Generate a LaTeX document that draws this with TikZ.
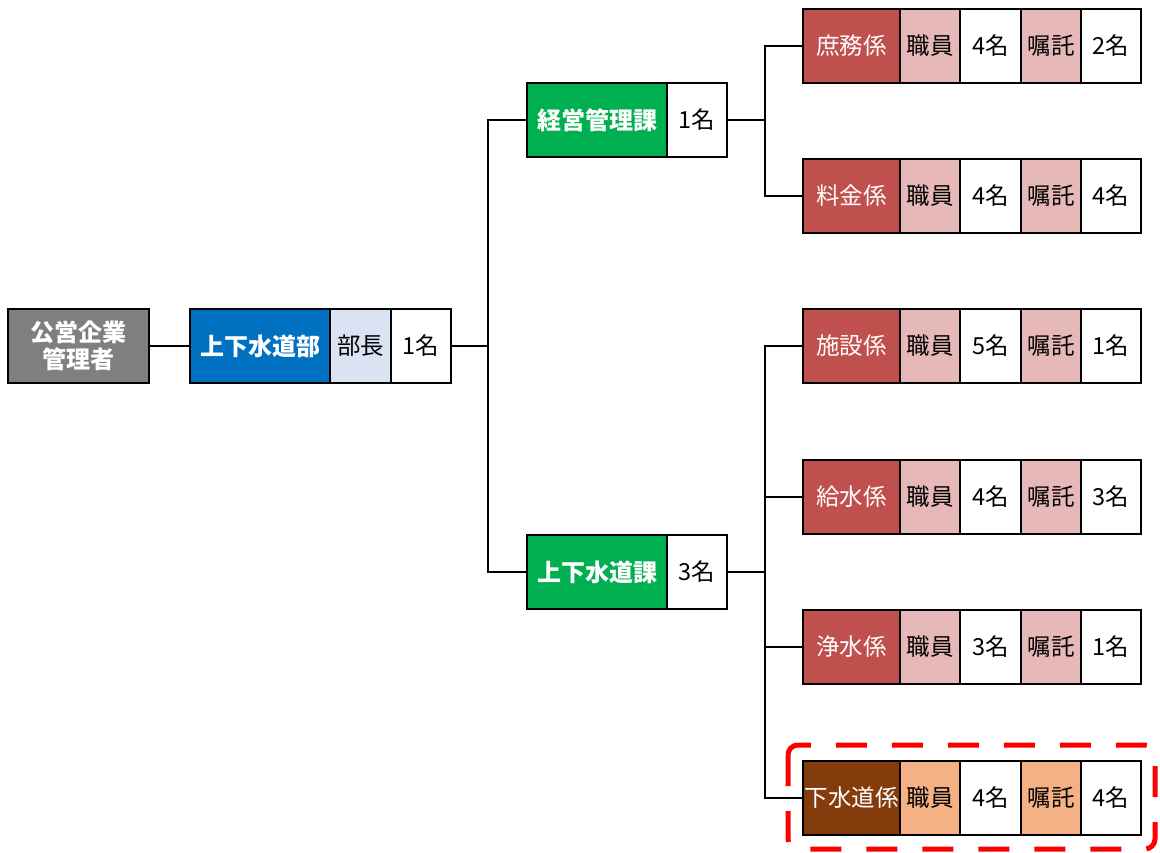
\documentclass[tikz,border=0pt]{standalone}
\usepackage{fontspec}
\newfontfamily\jp{Noto Sans CJK JP}
\usetikzlibrary{positioning}
\definecolor{kanrigray}{HTML}{7F7F7F}
\definecolor{bublue}{HTML}{0070C0}
\definecolor{bulight}{HTML}{DAE3F3}
\definecolor{kagreen}{HTML}{00B050}
\definecolor{kakari}{HTML}{C0504D}
\definecolor{kakarilight}{HTML}{E6B8B7}
\definecolor{gesuibrown}{HTML}{843C0C}
\definecolor{gesuilight}{HTML}{F4B183}

\begin{document}
\begin{tikzpicture}[x=1pt,y=-1pt,
    cellbox/.style={draw,line width=2.6pt,outer sep=0pt,inner sep=0pt,
      minimum height=74pt,font=\jp\fontsize{23.5}{27}\selectfont},
    headbox/.style={cellbox,text=white,font=\jp\bfseries\fontsize{24}{27.5}\selectfont},
    kakaribox/.style={cellbox,fill=kakari,text=white,minimum width=97pt},
    rolebox/.style={cellbox,fill=kakarilight,minimum width=60pt},
    countbox/.style={cellbox,fill=white,minimum width=60pt},
    link/.style={draw,line width=2pt}]
  \useasboundingbox (0,0) rectangle (1160,853);

  \node[headbox,fill=kanrigray,minimum width=141pt,align=center] (kanri) at (78.5,346) {公営企業\\管理者};

  \node[headbox,fill=bublue,minimum width=140pt] (bu) at (260,346) {上下水道部};
  \node[cellbox,fill=bulight,minimum width=61pt,right=0pt of bu] (bu-yaku) {部長};
  \node[countbox,right=0pt of bu-yaku] (bu-nin) {1名};

  \node[headbox,fill=kagreen,minimum width=140pt] (ka1) at (597,120) {経営管理課};
  \node[countbox,right=0pt of ka1] (ka1-nin) {1名};
  \node[headbox,fill=kagreen,minimum width=140pt] (ka2) at (597,572) {上下水道課};
  \node[countbox,right=0pt of ka2] (ka2-nin) {3名};

  % kakari rows
  \node[kakaribox] (shomu) at (851.5,46) {庶務係};
  \node[rolebox,right=0pt of shomu] (shomu-s) {職員};
  \node[countbox,minimum width=61pt,right=0pt of shomu-s] (shomu-sn) {4名};
  \node[rolebox,right=0pt of shomu-sn] (shomu-i) {嘱託};
  \node[countbox,right=0pt of shomu-i] (shomu-in) {2名};

  \node[kakaribox] (ryokin) at (851.5,196) {料金係};
  \node[rolebox,right=0pt of ryokin] (ryokin-s) {職員};
  \node[countbox,minimum width=61pt,right=0pt of ryokin-s] (ryokin-sn) {4名};
  \node[rolebox,right=0pt of ryokin-sn] (ryokin-i) {嘱託};
  \node[countbox,right=0pt of ryokin-i] (ryokin-in) {4名};

  \node[kakaribox] (shisetsu) at (851.5,346) {施設係};
  \node[rolebox,right=0pt of shisetsu] (shisetsu-s) {職員};
  \node[countbox,minimum width=61pt,right=0pt of shisetsu-s] (shisetsu-sn) {5名};
  \node[rolebox,right=0pt of shisetsu-sn] (shisetsu-i) {嘱託};
  \node[countbox,right=0pt of shisetsu-i] (shisetsu-in) {1名};

  \node[kakaribox] (kyusui) at (851.5,497) {給水係};
  \node[rolebox,right=0pt of kyusui] (kyusui-s) {職員};
  \node[countbox,minimum width=61pt,right=0pt of kyusui-s] (kyusui-sn) {4名};
  \node[rolebox,right=0pt of kyusui-sn] (kyusui-i) {嘱託};
  \node[countbox,right=0pt of kyusui-i] (kyusui-in) {3名};

  \node[kakaribox] (josui) at (851.5,647) {浄水係};
  \node[rolebox,right=0pt of josui] (josui-s) {職員};
  \node[countbox,minimum width=61pt,right=0pt of josui-s] (josui-sn) {3名};
  \node[rolebox,right=0pt of josui-sn] (josui-i) {嘱託};
  \node[countbox,right=0pt of josui-i] (josui-in) {1名};

  \node[kakaribox,fill=gesuibrown] (gesui) at (851.5,798) {下水道係};
  \node[rolebox,fill=gesuilight,right=0pt of gesui] (gesui-s) {職員};
  \node[countbox,minimum width=61pt,right=0pt of gesui-s] (gesui-sn) {4名};
  \node[rolebox,fill=gesuilight,right=0pt of gesui-sn] (gesui-i) {嘱託};
  \node[countbox,right=0pt of gesui-i] (gesui-in) {4名};

  % connectors
  \coordinate (j-bu) at (488,346);
  \coordinate (j-ka1) at (765,120);
  \coordinate (j-ka2) at (765,572);
  \path[link] (kanri.east) -- (bu.west);
  \path[link] (bu-nin.east) -- (j-bu) |- (ka1.west);
  \path[link] (j-bu) |- (ka2.west);
  \path[link] (ka1-nin.east) -- (j-ka1) |- (shomu.west);
  \path[link] (j-ka1) |- (ryokin.west);
  \path[link] (ka2-nin.east) -- (j-ka2) |- (shisetsu.west);
  \path[link] (j-ka2) |- (kyusui.west);
  \path[link] (j-ka2) |- (josui.west);
  \path[link] (j-ka2) |- (gesui.west);

  % highlight
  \draw[red,line width=5pt,dash pattern=on 31pt off 25pt,rounded corners=10pt]
    (788,745) rectangle (1155,849);
\end{tikzpicture}
\end{document}
